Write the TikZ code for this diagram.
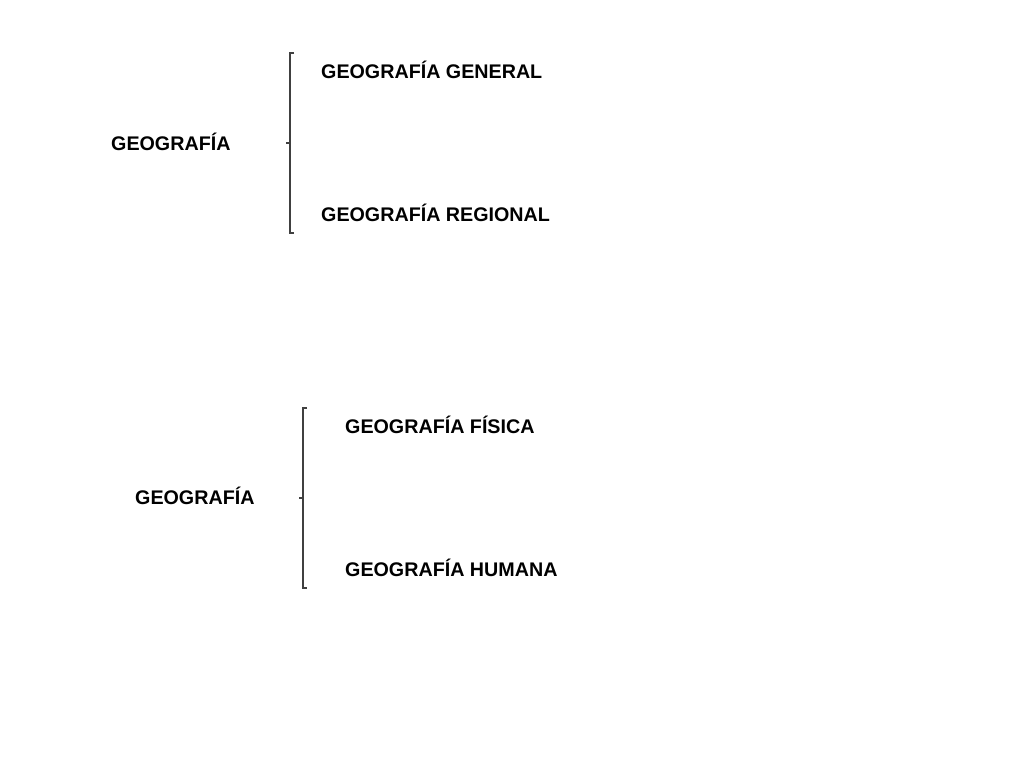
\documentclass[tikz,border=0pt]{standalone}
\usepackage{fontspec}
\setmainfont{Liberation Sans}[BoldFont={Liberation Sans Bold}]
\usetikzlibrary{calc}
\begin{document}
\begin{tikzpicture}[x=1pt,y=-1pt,
  lbl/.style={anchor=base west,inner sep=0pt,font=\fontsize{19.7}{22}\selectfont\bfseries},
  brk/.style={draw=black!75,line width=1.3pt}]
\useasboundingbox (0,0) rectangle (1024,768);
% first group
\node[lbl] (g1) at (111,150) {GEOGRAFÍA};
\node[lbl] (gen) at (321,78) {GEOGRAFÍA GENERAL};
\node[lbl] (reg) at (321,221) {GEOGRAFÍA REGIONAL};
\coordinate (b1t) at (290,53);
\coordinate (b1b) at (290,233);
\coordinate (b1m) at (290,143);
\draw[brk] ($(b1t)+(4,0)$) -- (b1t) -- (b1b) -- ++(4,0);
\draw[brk] (b1m) -- ++(-4,0);
% second group
\node[lbl] (g2) at (135,504) {GEOGRAFÍA};
\node[lbl] (fis) at (345,433) {GEOGRAFÍA FÍSICA};
\node[lbl] (hum) at (345,576) {GEOGRAFÍA HUMANA};
\coordinate (b2t) at (303,408);
\coordinate (b2b) at (303,588);
\coordinate (b2m) at (303,498);
\draw[brk] ($(b2t)+(4,0)$) -- (b2t) -- (b2b) -- ++(4,0);
\draw[brk] (b2m) -- ++(-4,0);
\end{tikzpicture}
\end{document}
